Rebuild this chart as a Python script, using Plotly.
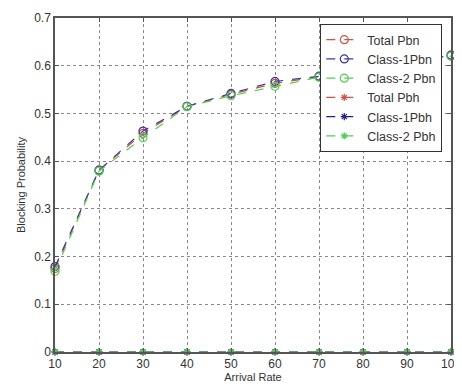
import plotly.graph_objects as go

arrival = [10, 20, 30, 40, 50, 60, 70, 80, 90, 100]
total_pbn = [0.175, 0.381, 0.458, 0.515, 0.540, 0.563, 0.577, 0.590, 0.604, 0.622]
class1_pbn = [0.179, 0.381, 0.463, 0.515, 0.542, 0.567, 0.578, 0.591, 0.605, 0.622]
class2_pbn = [0.169, 0.379, 0.449, 0.514, 0.537, 0.557, 0.576, 0.589, 0.603, 0.620]
total_pbh = [0, 0, 0, 0, 0, 0, 0, 0, 0, 0]
class1_pbh = [0, 0, 0, 0, 0, 0, 0, 0, 0, 0]
class2_pbh = [0, 0, 0, 0, 0, 0, 0, 0, 0, 0]

names = ["Total Pbn", "Class-1Pbn", "Class-2 Pbn", "Total Pbh", "Class-1Pbh", "Class-2 Pbh"]
series = [total_pbn, class1_pbn, class2_pbn, total_pbh, class1_pbh, class2_pbh]
colors = ["#d0504a", "#3a3a9a", "#50d050", "#d0504a", "#22228a", "#50d050"]
symbols = ["circle-open", "circle-open", "circle-open", "asterisk-open", "asterisk-open", "asterisk-open"]
sizes = [8, 8, 8, 6, 6, 6]

FONT = "Liberation Sans, Arial, sans-serif"

fig = go.Figure()
for n, y, c, s, sz in zip(names, series, colors, symbols, sizes):
    fig.add_trace(go.Scatter(
        x=arrival, y=y, name=n, mode="lines+markers",
        line=dict(color=c, width=1.2, dash="dash"),
        marker=dict(symbol=s, size=sz, color=c, line=dict(color=c, width=1.2)),
        cliponaxis=False,
    ))

axis_common = dict(
    showgrid=True, gridcolor="#888888", griddash="dot", gridwidth=1,
    showline=True, linecolor="#555555", linewidth=1.5, mirror="ticks",
    ticks="inside", ticklen=4, tickcolor="#555555",
    tickfont=dict(family=FONT, size=12, color="#333333"),
    ticklabeloverflow="allow",
    zeroline=False, automargin=False,
)

# page body has an 8px margin, so the figure is sized to fit the window
fig.update_layout(
    width=454, height=380,
    margin=dict(l=47, r=11, t=10, b=36, autoexpand=False),
    paper_bgcolor="white", plot_bgcolor="white",
    showlegend=True,
    legend=dict(
        x=0.978, y=0.982, xanchor="right", yanchor="top",
        bgcolor="white", bordercolor="#333333", borderwidth=1,
        font=dict(family=FONT, size=12.5, color="#333333"),
        tracegroupgap=0, itemwidth=36,
    ),
    xaxis=dict(range=[10, 100], tickmode="array", tickvals=arrival,
               title=dict(text="Arrival Rate", standoff=2,
                          font=dict(family=FONT, size=11, color="#333333")),
               **axis_common),
    yaxis=dict(range=[0, 0.7], tickmode="array",
               tickvals=[0, 0.1, 0.2, 0.3, 0.4, 0.5, 0.6, 0.7],
               ticktext=["0", "0.1", "0.2", "0.3", "0.4", "0.5", "0.6", "0.7"],
               title=dict(text="Blocking Probability", standoff=6,
                          font=dict(family=FONT, size=11, color="#333333")),
               **axis_common),
)

fig.write_html("out.html")
